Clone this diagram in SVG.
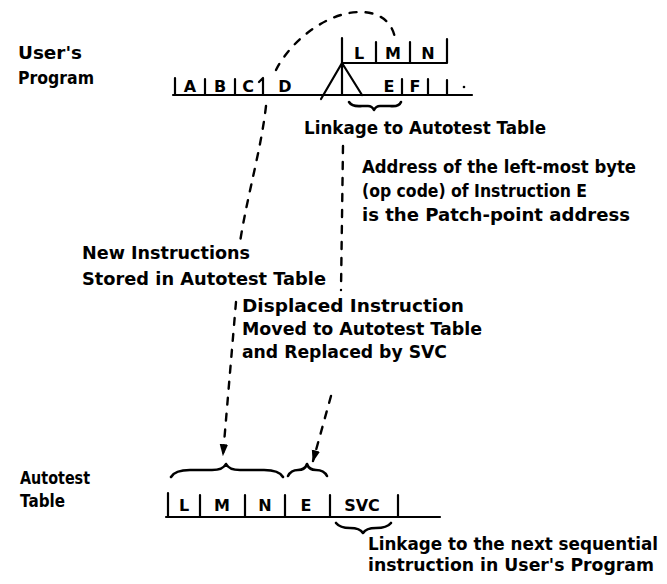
<svg xmlns="http://www.w3.org/2000/svg" width="667" height="584" viewBox="0 0 667 584">
  <defs>
    <style>
      .t { font-family: "DejaVu Sans", "Liberation Sans", sans-serif; font-weight: bold; font-size: 17px; fill: #000; }
      .cell { font-family: "DejaVu Sans", "Liberation Sans", sans-serif; font-weight: bold; font-size: 16px; fill: #000; text-anchor: middle; }
      .ln { stroke: #000; stroke-width: 2.2; fill: none; stroke-linecap: round; stroke-linejoin: round; }
      .dash { stroke: #000; stroke-width: 2.4; fill: none; stroke-dasharray: 7 9; stroke-linecap: round; }
      .brace { stroke: #000; stroke-width: 2.6; fill: none; stroke-linecap: round; stroke-linejoin: round; }
    </style>
    <marker id="arrow" viewBox="0 0 10 10" refX="9" refY="5" markerWidth="5" markerHeight="6" orient="auto" markerUnits="strokeWidth">
      <path d="M0,1.5 L10,5 L0,8.5 z" fill="#000"/>
    </marker>
  </defs>
  <rect width="667" height="584" fill="#fff"/>

  <!-- User's program storage row -->
  <g id="users-program">
    <text class="t" x="18" y="59" textLength="64" lengthAdjust="spacingAndGlyphs">User's</text>
    <text class="t" x="18" y="84" textLength="76" lengthAdjust="spacingAndGlyphs">Program</text>
    <path class="ln" d="M173,95 H472"/>
    <path class="ln" d="M175,78 V95 M205,79 V95 M235,79 V95 M259,82 L263,78 V95"/>
    <text class="cell" x="190" y="92">A</text>
    <text class="cell" x="220" y="92">B</text>
    <text class="cell" x="248" y="92">C</text>
    <text class="cell" x="285" y="92">D</text>
    <!-- patch point caret -->
    <path class="ln" d="M321,99 L342,63 L362,95 M342,63 V95"/>
    <text class="cell" x="389" y="92">E</text>
    <path class="ln" d="M402,79 V95 M428,79 V95 M447,80 V95"/>
    <text class="cell" x="415" y="92">F</text>
    <circle cx="464" cy="87" r="1.3" fill="#000"/>
    <!-- brace under the linkage bytes -->
    <path class="brace" d="M349,102 Q352,107 362,106 L368,106 Q372,106 374,110 Q376,106 380,106 L390,106 Q399,107 401,102"/>
  </g>

  <!-- Patch instructions inserted at the patch point -->
  <g id="patch-lmn">
    <path class="ln" d="M342,38 V63 H447 V39 M376,42 V63 M410,42 V63"/>
    <text class="cell" x="359" y="59">L</text>
    <text class="cell" x="393" y="59">M</text>
    <text class="cell" x="428" y="59">N</text>
  </g>

  <!-- Autotest table row -->
  <g id="autotest-table">
    <text class="t" x="20" y="484" textLength="70" lengthAdjust="spacingAndGlyphs">Autotest</text>
    <text class="t" x="20" y="507" textLength="45" lengthAdjust="spacingAndGlyphs">Table</text>
    <path class="ln" d="M166,517 H440"/>
    <path class="ln" d="M168,493 V517 M200,495 V517 M245,495 V517 M285,495 V517 M330,495 V517 M398,495 V517"/>
    <text class="cell" x="184" y="511">L</text>
    <text class="cell" x="222" y="511">M</text>
    <text class="cell" x="265" y="511">N</text>
    <text class="cell" x="306" y="511">E</text>
    <text class="cell" x="362" y="511">SVC</text>
    <!-- braces over L M N and over E -->
    <path class="brace" d="M171,477 Q175,470 190,470 L212,470 Q223,470 226,464 Q229,470 240,470 L264,470 Q279,470 283,477"/>
    <path class="brace" d="M288,476 Q291,470 298,470 Q305,470 307,464 Q309,470 316,470 Q324,470 327,476"/>
    <!-- brace under SVC -->
    <path class="brace" d="M336,523 Q340,528 350,528 Q360,528 363,533 Q366,528 376,528 Q387,528 391,523"/>
  </g>

  <!-- Annotations -->
  <g id="labels">
    <text class="t" x="304" y="134" textLength="242" lengthAdjust="spacingAndGlyphs">Linkage to Autotest Table</text>
    <text class="t" x="362" y="173" textLength="274" lengthAdjust="spacingAndGlyphs">Address of the left-most byte</text>
    <text class="t" x="362" y="197" textLength="225" lengthAdjust="spacingAndGlyphs">(op code) of Instruction E</text>
    <text class="t" x="362" y="221" textLength="268" lengthAdjust="spacingAndGlyphs">is the Patch-point address</text>
    <text class="t" x="82" y="259" textLength="168" lengthAdjust="spacingAndGlyphs">New Instructions</text>
    <text class="t" x="82" y="285" textLength="244" lengthAdjust="spacingAndGlyphs">Stored in Autotest Table</text>
    <text class="t" x="242" y="312" textLength="222" lengthAdjust="spacingAndGlyphs">Displaced Instruction</text>
    <text class="t" x="242" y="335" textLength="240" lengthAdjust="spacingAndGlyphs">Moved to Autotest Table</text>
    <text class="t" x="242" y="358" textLength="205" lengthAdjust="spacingAndGlyphs">and Replaced by SVC</text>
    <text class="t" x="368" y="550" textLength="290" lengthAdjust="spacingAndGlyphs">Linkage to the next sequential</text>
    <text class="t" x="368" y="571" textLength="286" lengthAdjust="spacingAndGlyphs">instruction in User's Program</text>
  </g>

  <!-- Connectors -->
  <g id="connectors">
    <!-- patch bytes lifted out of the program and over to the L M N block -->
    <path class="dash" d="M276,70 C291,40 328,12 360,12 C380,12 392,22 395,38"/>
    <!-- new instructions copied down into the autotest table -->
    <path class="dash" d="M266,106 C261,150 248,192 240,242"/>
    <path class="dash" d="M236,302 L223,455" marker-end="url(#arrow)"/>
    <!-- patch point address, then displaced instruction moved down -->
    <path class="dash" d="M343,146 L341,290"/>
    <path class="dash" d="M331,396 L313,461" marker-end="url(#arrow)"/>
  </g>
</svg>
